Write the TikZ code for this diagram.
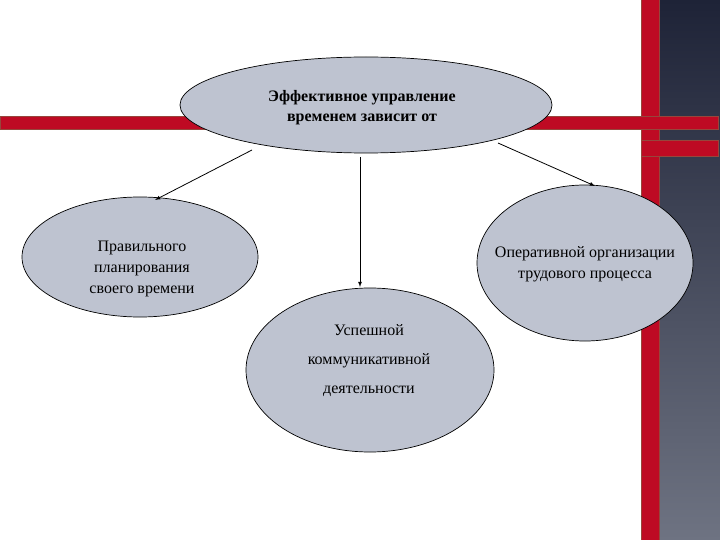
\documentclass[tikz,border=0pt]{standalone}
\usepackage{fontspec}
\setmainfont{Liberation Serif}
\definecolor{ellfill}{RGB}{190,195,208}
\definecolor{barred}{RGB}{190,10,35}
\definecolor{baredge}{RGB}{150,70,60}
\definecolor{darkA}{RGB}{30,35,55}
\definecolor{darkB}{RGB}{110,115,130}
\begin{document}
\begin{tikzpicture}[x=1pt,y=-1pt,
  ell/.style={draw=black,fill=ellfill,line width=0.7pt},
  arr/.style={-latex,line width=0.8pt}]
\useasboundingbox (0,0) rectangle (720,540);
\fill[white] (0,0) rectangle (720,540);
\shade[top color=darkA,bottom color=darkB] (660,0) rectangle (720,540);
\fill[barred,draw=baredge,line width=1pt] (641,0) rectangle (659,540);
\fill[barred,draw=baredge,line width=1pt] (0,117) rectangle (718,130);
\fill[barred,draw=baredge,line width=1pt] (641,141) rectangle (718,157);
\draw[ell] (366,105) ellipse [x radius=186,y radius=48];
\node[font=\bfseries\fontsize{16}{20}\selectfont,align=center] (top) at (362,108) {Эффективное управление\\временем зависит от};
\draw[ell] (140,257) ellipse [x radius=118,y radius=60];
\node[align=center,font=\fontsize{16}{21}\selectfont] (left) at (142,269) {Правильного\\планирования\\своего времени};
\draw[ell] (585,263) ellipse [x radius=108,y radius=78];
\node[align=center,font=\fontsize{16}{21}\selectfont] (right) at (585,264) {Оперативной организации\\трудового процесса};
\draw[ell] (370,370) ellipse [x radius=124,y radius=82];
\node[align=center,font=\fontsize{16}{29}\selectfont] (bot) at (369,361) {Успешной\\коммуникативной\\деятельности};
\coordinate (s1) at (252,150); \coordinate (e1) at (155,200);
\coordinate (s2) at (360,157); \coordinate (e2) at (360,287);
\coordinate (s3) at (498,143); \coordinate (e3) at (595,186);
\draw[arr] (s1) -- (e1);
\draw[arr] (s2) -- (e2);
\draw[arr] (s3) -- (e3);
\end{tikzpicture}
\end{document}
